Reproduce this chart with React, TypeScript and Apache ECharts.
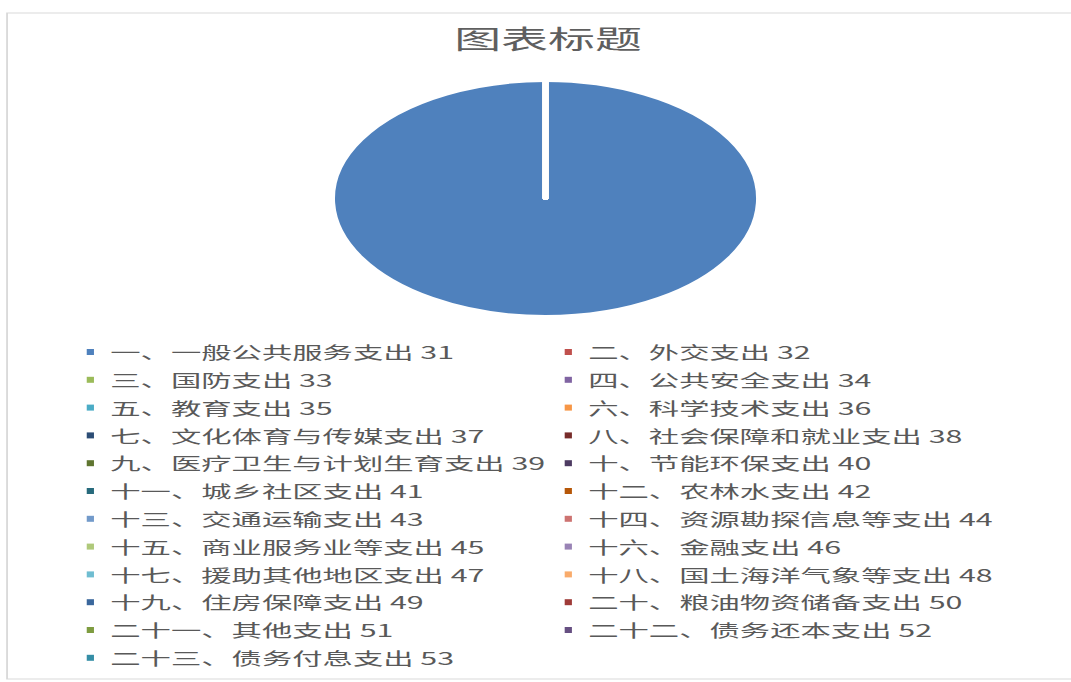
import React, { useEffect, useRef } from 'react';
import * as echarts from 'echarts';

const SCALE_X = 1.807;
const PAGE_W = 1071;
const PAGE_H = 682;
const BASE_W = PAGE_W / SCALE_X;
const FONT = '"Noto Sans CJK SC", "Noto Sans", sans-serif';

const chartTitle = '图表标题';

const categories = [
  '一、一般公共服务支出',
  '二、外交支出',
  '三、国防支出',
  '四、公共安全支出',
  '五、教育支出',
  '六、科学技术支出',
  '七、文化体育与传媒支出',
  '八、社会保障和就业支出',
  '九、医疗卫生与计划生育支出',
  '十、节能环保支出',
  '十一、城乡社区支出',
  '十二、农林水支出',
  '十三、交通运输支出',
  '十四、资源勘探信息等支出',
  '十五、商业服务业等支出',
  '十六、金融支出',
  '十七、援助其他地区支出',
  '十八、国土海洋气象等支出',
  '十九、住房保障支出',
  '二十、粮油物资储备支出',
  '二十一、其他支出',
  '二十二、债务还本支出',
  '二十三、债务付息支出',
];

const codes = [31, 32, 33, 34, 35, 36, 37, 38, 39, 40, 41, 42, 43, 44, 45, 46, 47, 48, 49, 50, 51, 52, 53];

const values = [100, 0, 0, 0, 0, 0, 0, 0, 0, 0, 0, 0, 0, 0, 0, 0, 0, 0, 0, 0, 0, 0, 0];

const colors = [
  '#4F81BD', '#C0504D', '#9BBB59', '#8064A2', '#4BACC6', '#F79646',
  '#2C4D75', '#772C2A', '#5F7530', '#4D3B62', '#276A7C', '#B65708',
  '#729ACA', '#CD7371', '#AFC97A', '#9983B5', '#6FBDD1', '#F9AB6B',
  '#3A679C', '#9F3B38', '#7E9C40', '#664F82', '#358EA6',
];

export default function App() {
  const ref = useRef<HTMLDivElement>(null);

  useEffect(() => {
    if (!ref.current) return;
    const chart = echarts.init(ref.current, null, { renderer: 'svg', width: BASE_W, height: PAGE_H });
    const labels = categories.map((c, i) => `${c} ${codes[i]}`);
    const data = labels.map((name, i) => ({ name, value: values[i], itemStyle: { color: colors[i] } }));
    const leftNames = labels.filter((_, i) => i % 2 === 0);
    const rightNames = labels.filter((_, i) => i % 2 === 1);
    const legendCommon = {
      orient: 'vertical',
      padding: 0,
      itemWidth: 4,
      itemHeight: 6,
      itemGap: 9.8,
      icon: 'rect',
      selectedMode: false,
      itemStyle: { borderWidth: 0 },
      textStyle: { fontFamily: FONT, fontSize: 16.8, color: '#595959', lineHeight: 18, padding: [0, 0, 0, 4] },
    };
    chart.setOption({
      animation: false,
      color: colors,
      title: {
        text: chartTitle,
        left: 303.3,
        textAlign: 'center',
        top: 25,
        padding: 0,
        textStyle: { fontFamily: FONT, fontSize: 26, fontWeight: 'normal', color: '#5f5f5f' },
      },
      legend: [
        { ...legendCommon, data: leftNames, left: 48, top: 343 },
        { ...legendCommon, data: rightNames, left: 312.5, top: 343 },
      ],
      graphic: [
        {
          type: 'rect',
          silent: true,
          z: -1,
          shape: { x: 3.9, y: 13, width: 1000, height: 666 },
          style: { fill: 'none', stroke: '#d9d9d9', lineWidth: 1 },
        },
      ],
      series: [
        {
          type: 'pie',
          center: [301.9, 198.5],
          radius: 118,
          startAngle: 90,
          clockwise: true,
          silent: true,
          label: { show: false },
          labelLine: { show: false },
          emphasis: { disabled: true },
          itemStyle: { borderColor: '#ffffff', borderWidth: 3 },
          data,
        },
      ],
    });
    return () => chart.dispose();
  }, []);

  return (
    <div
      ref={ref}
      style={{
        position: 'absolute',
        left: 0,
        top: 0,
        width: BASE_W,
        height: PAGE_H,
        transform: `scaleX(${SCALE_X})`,
        transformOrigin: '0 0',
      }}
    />
  );
}
